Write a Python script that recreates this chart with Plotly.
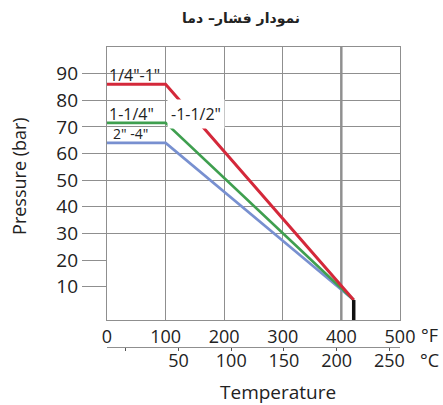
import plotly.graph_objects as go

# ---- data ----
temp_f = [0, 100, 421]            # °F break points
p_small = [86, 86, 5]             # 1/4"-1"  (red)
p_mid = [71.5, 71.5, 5]           # 1-1/4"-1-1/2" (green)
p_large = [64, 64, 5]             # 2"-4" (blue)
limit_f = [421, 421]              # max temperature marker
limit_p = [-2.5, 5]

f_ticks = [0, 100, 200, 300, 400, 500]
c_ticks = [0, 50, 100, 150, 200, 250]
c_labels = ["", "50", "100", "150", "200", "250"]
p_ticks = [10, 20, 30, 40, 50, 60, 70, 80, 90]
p_grid = [30, 40, 50, 60, 70, 80, 90]

temp_c = [(f - 32) / 1.8 for f in temp_f]

RED = "#d4283a"
GREEN = "#3f9f4f"
BLUE = "#7890d0"
GRID = "#8f8f8f"
TXT = "#222222"
FONT = "Open Sans"

fig = go.Figure()
fig.add_trace(go.Scatter(x=temp_f, y=p_large, mode="lines",
                         line=dict(color=BLUE, width=2.6), xaxis="x", yaxis="y"))
fig.add_trace(go.Scatter(x=temp_f, y=p_mid, mode="lines",
                         line=dict(color=GREEN, width=2.6), xaxis="x", yaxis="y"))
fig.add_trace(go.Scatter(x=temp_f, y=p_small, mode="lines",
                         line=dict(color=RED, width=3), xaxis="x", yaxis="y"))
fig.add_trace(go.Scatter(x=limit_f, y=limit_p, mode="lines",
                         line=dict(color="#111111", width=3.5), xaxis="x", yaxis="y2"))
# same red curve in °C on the Celsius scale (invisible; keeps the °C axis alive)
fig.add_trace(go.Scatter(x=temp_c, y=p_small, mode="lines", opacity=0,
                         line=dict(color=RED, width=0), hoverinfo="skip",
                         xaxis="x2", yaxis="y"))

c_min = (0 - 32) / 1.8
c_max = (500 - 32) / 1.8
DOM = 0.2266

fig.update_layout(
    width=443, height=405,
    margin=dict(l=107, r=43, t=47, b=5),
    paper_bgcolor="white", plot_bgcolor="white",
    showlegend=False,
    font=dict(family=FONT, color=TXT, size=19),
    xaxis=dict(range=[0, 500], tickvals=f_ticks, showgrid=True, gridcolor=GRID,
               gridwidth=1.2, zeroline=False, showline=True, mirror=True,
               linecolor=GRID, linewidth=1.2, ticks="", anchor="y",
               tickfont=dict(size=18, family=FONT, color=TXT)),
    xaxis2=dict(range=[c_min, c_max], overlaying="x", anchor="free", position=0.151,
                side="bottom", tickvals=c_ticks, ticktext=c_labels, showgrid=False,
                zeroline=False, showline=True, linecolor=GRID, linewidth=1.2,
                ticks="outside", ticklen=3, tickcolor="#555555", ticklabelstandoff=-5,
                tickfont=dict(size=18, family=FONT, color=TXT)),
    yaxis=dict(domain=[DOM, 1], range=[-2.5, 100], tickvals=p_ticks,
               showgrid=False, zeroline=False, showline=True, mirror=True,
               linecolor=GRID, linewidth=1.2, ticks="outside", ticklen=24,
               tickcolor=GRID, tickwidth=1.2,
               tickfont=dict(size=19, family=FONT, color=TXT)),
    yaxis2=dict(domain=[DOM, 1], range=[-2.5, 100], overlaying="y", tickvals=p_grid,
                showgrid=True, gridcolor=GRID, gridwidth=1.2, zeroline=False,
                showticklabels=False, ticks=""),
)

# darker 400°F grid line
fig.add_shape(type="line", xref="x", yref="paper", x0=400, x1=400, y0=DOM, y1=1,
              line=dict(color="#333333", width=1.8), layer="between")

ann_font = dict(family=FONT, size=16, color=TXT)
fig.add_annotation(x=0, y=89.5, xref="x", yref="y", xanchor="left", text='1/4"-1"',
                   showarrow=False, font=ann_font)
fig.add_annotation(x=0, y=74.8, xref="x", yref="y", xanchor="left", text='1-1/4"',
                   showarrow=False, font=ann_font)
fig.add_annotation(x=102, y=74.8, xref="x", yref="y", xanchor="left", text='-1-1/2"',
                   showarrow=False, font=ann_font, bgcolor="white", borderpad=3)
fig.add_annotation(x=6, y=67.6, xref="x", yref="y", xanchor="left", text='2" -4"',
                   showarrow=False, font=dict(family=FONT, size=14, color=TXT))

def paper_text(x, y, text, font, angle=0):
    fig.add_annotation(x=x, y=y, xref="paper", yref="paper", text=text,
                       xanchor="center", yanchor="middle", textangle=angle,
                       showarrow=False, font=font)

paper_text(0.457, 1.082, "<b>نمودار فشار– دما</b>",
           dict(family="DejaVu Sans", size=14, color=TXT))
paper_text(-0.300, 0.635, "Pressure (bar)", dict(family=FONT, size=18, color=TXT), -90)
paper_text(0.584, 0.0227, "Temperature", dict(family=FONT, size=19, color=TXT))
paper_text(1.100, 0.184, "°F", dict(family=FONT, size=18, color=TXT))
paper_text(1.100, 0.113, "°C", dict(family=FONT, size=18, color=TXT))

# page without the default 8px body margin so the figure fills the window
fig.write_html("out.html", config={"displayModeBar": False},
               post_script="document.body.style.margin='0px';document.body.style.overflow='hidden';")
